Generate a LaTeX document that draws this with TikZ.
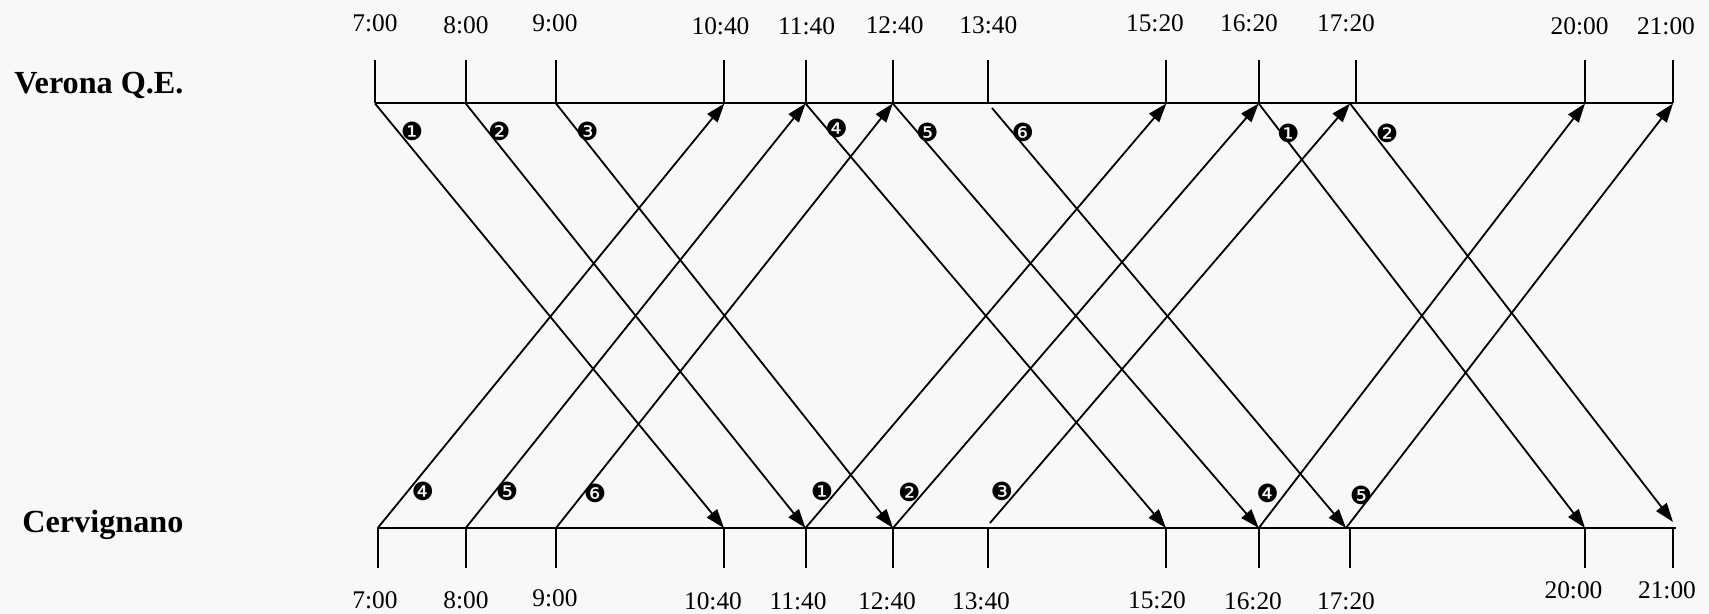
\documentclass[tikz,border=0pt]{standalone}
\usepackage{fontspec}
\setmainfont{Liberation Serif}
\newfontfamily\dingfont{DejaVu Sans}
\usetikzlibrary{arrows.meta}
\definecolor{bg}{RGB}{248,248,248}
\begin{document}
\begin{tikzpicture}[x=0.5pt,y=-0.5pt,
  axisline/.style={line width=1pt},
  tickline/.style={line width=1pt},
  train/.style={line width=0.9pt,-{Triangle[length=9.5pt,width=6.5pt]}},
  timelbl/.style={font=\fontsize{12.7}{14}\selectfont, inner sep=0pt, anchor=base},
  stationlbl/.style={font=\fontsize{16.1}{18}\selectfont\bfseries, inner sep=0pt, anchor=base west},
  numlbl/.style={font=\dingfont\fontsize{12.5}{14}\selectfont, inner sep=0pt},
]
\fill[bg] (0,0) rectangle (1709,614);
\useasboundingbox (0,0) rectangle (1709,614);

% station labels
\node[stationlbl] (verona) at (14,93.3) {Verona Q.E.};
\node[stationlbl] (cerv) at (22,533) {Cervignano};

% top tick coordinates
\foreach \i/\x in {1/375,2/465.7,3/556,4/724.4,5/805.5,6/892.8,7/988.4,8/1166.4,9/1258.7,10/1356,11/1585,12/1673}{
  \coordinate (t\i) at (\x,103.5);
  \draw[tickline] (t\i) -- ++(0,-43);
}
% bottom tick coordinates
\foreach \i/\x in {1/377.7,2/465.7,3/556,4/724,5/805.5,6/893,7/988.4,8/1166,9/1258.7,10/1349.6,11/1585,12/1673}{
  \coordinate (b\i) at (\x,528);
  \draw[tickline] (b\i) -- ++(0,40);
}
% special train points
\coordinate (t7s) at (992,108);
\coordinate (b7s) at (990,523);
\coordinate (t10s) at (1350,103.5);
\coordinate (b10s) at (1346,528);
\coordinate (b12s) at (1673,522);
\coordinate (bend) at (1676,528);

% axes
\draw[axisline] (t1) -- (t12);
\draw[axisline] (b1) -- (bend);

% time labels top
\foreach \n/\x/\y/\s in {lt1/375/31.7/7:00, lt2/466/33.3/8:00, lt3/555/31.7/9:00, lt4/720.5/35/10:40, lt5/806.6/35/11:40, lt6/894.7/33.3/12:40, lt7/988.4/33.3/13:40, lt8/1155/31.7/15:20, lt9/1249/31.7/16:20, lt10/1346/31.7/17:20, lt11/1579.6/35/20:00, lt12/1666/35/21:00}{
  \node[timelbl] (\n) at (\x,\y) {\s};
}
% time labels bottom
\foreach \n/\x/\y/\s in {lb1/375/608.3/7:00, lb2/466/608.3/8:00, lb3/555/606.7/9:00, lb4/713/610/10:40, lb5/798/610/11:40, lb6/887/610/12:40, lb7/981/610/13:40, lb8/1157/608.3/15:20, lb9/1253/610/16:20, lb10/1346/610/17:20, lb11/1573.5/598.3/20:00, lb12/1667/598.3/21:00}{
  \node[timelbl] (\n) at (\x,\y) {\s};
}

% down trains (Verona -> Cervignano)
\draw[train] (t1) -- (b4);
\draw[train] (t2) -- (b5);
\draw[train] (t3) -- (b6);
\draw[train] (t5) -- (b8);
\draw[train] (t6) -- (b9);
\draw[train] (t7s) -- (b10s);
\draw[train] (t9) -- (b11);
\draw[train] (t10s) -- (b12s);

% up trains (Cervignano -> Verona)
\draw[train] (b1) -- (t4);
\draw[train] (b2) -- (t5);
\draw[train] (b3) -- (t6);
\draw[train] (b5) -- (t8);
\draw[train] (b6) -- (t9);
\draw[train] (b7s) -- (t10s);
\draw[train] (b9) -- (t11);
\draw[train] (b10s) -- (t12);

% train numbers top
\node[numlbl] (nt1) at (412,131) {❶};
\node[numlbl] (nt2) at (499.4,131.7) {❷};
\node[numlbl] (nt3) at (587.4,131.7) {❸};
\node[numlbl] (nt4) at (836.5,128.3) {❹};
\node[numlbl] (nt5) at (927.2,132.3) {❺};
\node[numlbl] (nt6) at (1022.9,132.7) {❻};
\node[numlbl] (nt7) at (1288.3,133.3) {❶};
\node[numlbl] (nt8) at (1387,133.3) {❷};
% train numbers bottom
\node[numlbl] (nb1) at (422.9,491.7) {❹};
\node[numlbl] (nb2) at (507,491.7) {❺};
\node[numlbl] (nb3) at (595,493) {❻};
\node[numlbl] (nb4) at (822,491.7) {❶};
\node[numlbl] (nb5) at (909.2,492.3) {❷};
\node[numlbl] (nb6) at (1001.8,491.7) {❸};
\node[numlbl] (nb7) at (1267.6,493.3) {❹};
\node[numlbl] (nb8) at (1361,495) {❺};
\end{tikzpicture}
\end{document}
